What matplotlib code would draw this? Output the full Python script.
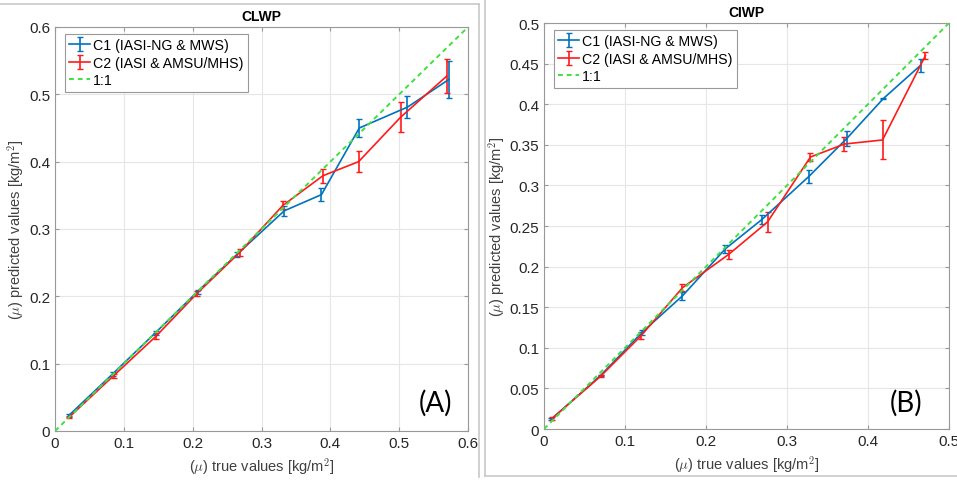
import numpy as np
import matplotlib.pyplot as plt
from matplotlib.lines import Line2D
from matplotlib.ticker import FormatStrFormatter

# CLWP (panel A)
clwp_c1_x = [0.020, 0.084, 0.146, 0.207, 0.264, 0.333, 0.387, 0.442, 0.512, 0.572]
clwp_c1_y = [0.023, 0.085, 0.146, 0.207, 0.262, 0.327, 0.351, 0.450, 0.481, 0.522]
clwp_c1_e = [0.002, 0.003, 0.003, 0.003, 0.004, 0.007, 0.010, 0.013, 0.016, 0.028]
clwp_c2_x = [0.021, 0.085, 0.147, 0.206, 0.268, 0.331, 0.389, 0.441, 0.502, 0.569]
clwp_c2_y = [0.021, 0.082, 0.141, 0.204, 0.265, 0.335, 0.379, 0.400, 0.466, 0.527]
clwp_c2_e = [0.002, 0.003, 0.004, 0.004, 0.005, 0.006, 0.010, 0.016, 0.022, 0.025]

# CIWP (panel B)
ciwp_c1_x = [0.009, 0.070, 0.121, 0.171, 0.224, 0.269, 0.327, 0.374, 0.419, 0.465]
ciwp_c1_y = [0.012, 0.066, 0.119, 0.164, 0.222, 0.258, 0.311, 0.358, 0.407, 0.448]
ciwp_c1_e = [0.001, 0.001, 0.003, 0.005, 0.005, 0.005, 0.008, 0.009, 0.001, 0.008]
ciwp_c2_x = [0.010, 0.070, 0.120, 0.171, 0.228, 0.276, 0.329, 0.371, 0.418, 0.471]
ciwp_c2_y = [0.013, 0.065, 0.115, 0.174, 0.215, 0.255, 0.335, 0.351, 0.356, 0.460]
ciwp_c2_e = [0.002, 0.001, 0.004, 0.004, 0.006, 0.012, 0.005, 0.009, 0.024, 0.004]

labels = ['C1 (IASI-NG & MWS)', 'C2 (IASI & AMSU/MHS)', '1:1']
blue = '#0072BD'
red = '#FF1A1A'
green = '#3fe03f'

plt.rcParams['font.family'] = ['Liberation Sans', 'DejaVu Sans']
plt.rcParams['mathtext.fontset'] = 'cm'

fig = plt.figure(figsize=(9.57, 4.85), dpi=100)


def panel(rect, title, lim, step, c1, c2, tag, tagpos):
    ax = fig.add_axes(rect)
    h1 = ax.errorbar(c1[0], c1[1], yerr=c1[2], color=blue, lw=1.2, capsize=2,
                     elinewidth=1.2)
    h2 = ax.errorbar(c2[0], c2[1], yerr=c2[2], color=red, lw=1.2, capsize=2,
                     elinewidth=1.2)
    h3, = ax.plot([0, lim], [0, lim], '--', color=green, lw=1.4, dashes=(2.5, 2),
                  zorder=5)
    ax.set_xlim(0, lim)
    ax.set_ylim(0, lim)
    ax.set_xticks(np.arange(0, lim + 1e-9, 0.1))
    ax.set_yticks(np.arange(0, lim + 1e-9, step))
    ax.xaxis.set_major_formatter(FormatStrFormatter('%g'))
    ax.yaxis.set_major_formatter(FormatStrFormatter('%g'))
    ax.grid(True, color='#e6e6e6', lw=0.8)
    ax.set_axisbelow(True)
    ax.tick_params(direction='in', length=3, labelsize=11, colors='#999999',
                   labelcolor='#262626', top=True, right=True)
    for s in ax.spines.values():
        s.set_color('#999999')
    ax.set_title(title, fontsize=10, fontweight='bold', pad=5)
    ax.set_xlabel(r'($\mu$) true values [kg/m$^2$]', fontsize=10.5, color='#404040')
    ax.set_ylabel(r'($\mu$) predicted values [kg/m$^2$]', fontsize=10.5, color='#404040',
                  labelpad=2)
    leg = ax.legend([h1, h2, h3], labels, loc='upper left', fontsize=10.2,
                    fancybox=False, framealpha=1, edgecolor='#999999',
                    bbox_to_anchor=(0.012, 0.995), borderaxespad=0.35,
                    handlelength=1.5, handletextpad=0.2, borderpad=0.3,
                    labelspacing=0.25)
    leg.get_frame().set_linewidth(0.8)
    ax.text(tagpos[0], tagpos[1], tag, transform=ax.transAxes, fontsize=20,
            family='Lato', ha='center', va='center')
    return ax


panel([0.0575, 0.1093, 0.4316, 0.833], 'CLWP', 0.6, 0.1,
      (clwp_c1_x, clwp_c1_y, clwp_c1_e), (clwp_c2_x, clwp_c2_y, clwp_c2_e),
      '(A)', (0.922, 0.072))
panel([0.5684, 0.1134, 0.4232, 0.837], 'CIWP', 0.5, 0.05,
      (ciwp_c1_x, ciwp_c1_y, ciwp_c1_e), (ciwp_c2_x, ciwp_c2_y, ciwp_c2_e),
      '(B)', (0.894, 0.066))

# screenshot panel borders
W, H = 957.0, 485.0
border = '#c8c8c8'
for xs, ys in [([0, 479], [5, 5]), ([479, 479], [5, 478]),
               ([485, 485], [0, 477]), ([485, 957], [477, 477])]:
    fig.add_artist(Line2D([x / W for x in xs], [1 - y / H for y in ys],
                          color=border, lw=1.2))

fig.savefig('out.png', dpi=100)
